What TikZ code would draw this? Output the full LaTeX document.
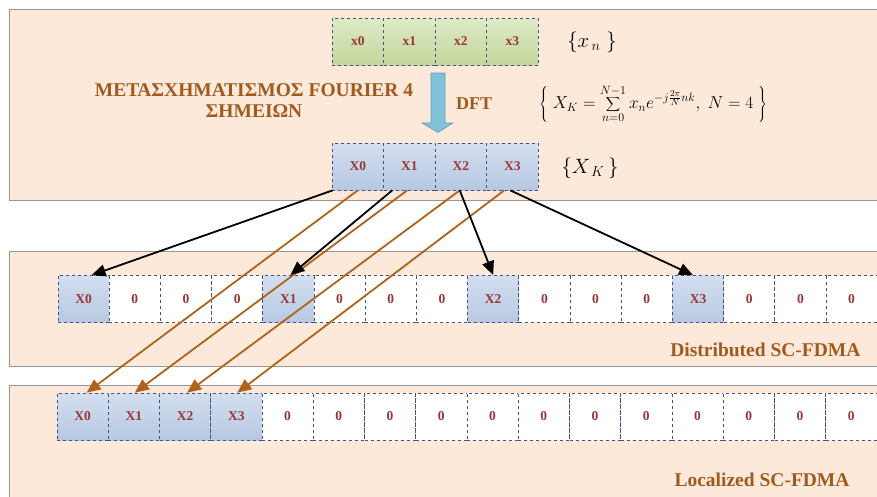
\documentclass[tikz,border=0pt]{standalone}
\usepackage{fontspec}
\setmainfont{Liberation Serif}
\usetikzlibrary{arrows.meta,calc}
\definecolor{panelfill}{RGB}{253,233,218}
\definecolor{panelline}{RGB}{150,150,150}
\definecolor{celltext}{RGB}{150,55,53}
\definecolor{cellline}{RGB}{70,80,130}
\definecolor{brownlab}{RGB}{160,90,30}
\definecolor{brownarr}{RGB}{176,98,26}
\definecolor{dftarrow}{RGB}{126,195,216}
\begin{document}
\begin{tikzpicture}[x=1pt,y=-1pt,
  panel/.style={fill=panelfill,draw=panelline,line width=1pt},
  cellbase/.style={draw=cellline,dashed,line width=0.7pt,minimum width=51.2pt,minimum height=47pt,inner sep=0pt,
     font=\fontsize{13.5}{15}\selectfont\bfseries,text=celltext},
  greencell/.style={cellbase,top color={rgb,255:red,222;green,234;blue,198},bottom color={rgb,255:red,196;green,214;blue,157}},
  bluecell/.style={cellbase,top color={rgb,255:red,212;green,223;blue,240},bottom color={rgb,255:red,182;green,200;blue,225}},
  zerocell/.style={cellbase,fill=white},
  blackarr/.style={draw=black,line width=1.8pt,-{Triangle[length=14pt,width=12pt]}},
  brownarrow/.style={draw=brownarr,line width=1.8pt,-{Triangle[length=14pt,width=12pt]}},
  lab/.style={text=brownlab,font=\fontsize{19.5}{21}\selectfont\bfseries}
]
\useasboundingbox (0,0) rectangle (877,496);
\clip (0,0) rectangle (877,496);
% panels
\draw[panel] (9,9) rectangle (885,200.5);
\draw[panel] (9,251) rectangle (885,366);
\draw[panel] (9,385) rectangle (885,505);

% top input cells
\foreach \i in {0,1,2,3}{
  \node[greencell,minimum width=51.5pt] (x\i) at ({357.75+51.5*\i},41.5) {x\i};
}
\node (xn) at (592,42) {\fontsize{21}{23}\selectfont$\{x_{\,n}\;\}$};

% DFT arrow
\draw[fill=dftarrow,draw=dftarrow!80!black,line width=0.6pt]
  (431,73) -- (445,73) -- (445,123) -- (453,123) -- (438,132.5) -- (422,123) -- (431,123) -- cycle;
\node[lab,align=center] (greek) at (254,101) {ΜΕΤΑΣΧΗΜΑΤΙΣΜΟΣ FOURIER 4\\ΣΗΜΕΙΩΝ};
\node[lab,font=\fontsize{18}{20}\selectfont\bfseries] (dft) at (474,104) {DFT};
\node (formula) at (653,104) {\fontsize{18}{21}\selectfont$\displaystyle\left\{\;X_K=\sum_{n=0}^{N-1}x_n e^{-j\frac{2\pi}{N}nk},\;N=4\;\right\}$};

% DFT output cells
\foreach \i in {0,1,2,3}{
  \node[bluecell,minimum width=51.5pt] (X\i) at ({357.75+51.5*\i},166.5) {X\i};
}
\node (XK) at (590,168) {\fontsize{21}{23}\selectfont$\{X_{\,K}\,\}$};

% distributed cells
\foreach \i in {0,...,15}{
  \pgfmathtruncatemacro{\r}{mod(\i,4)}
  \pgfmathtruncatemacro{\q}{\i/4}
  \ifnum\r=0
    \node[bluecell] (D\i) at ({83.6+51.2*\i},299) {X\q};
  \else
    \node[zerocell] (D\i) at ({83.6+51.2*\i},299) {0};
  \fi
}
\node[lab,anchor=east] (dist) at (864,350) {Distributed SC-FDMA};

% localized cells
\foreach \i in {0,...,15}{
  \ifnum\i<4
    \node[bluecell] (L\i) at ({82.6+51.25*\i},416.5) {X\i};
  \else
    \node[zerocell] (L\i) at ({82.6+51.25*\i},416.5) {0};
  \fi
}
\node[lab,anchor=east] (loc) at (853,480) {Localized SC-FDMA};

% brown arrows (to localized)
\draw[brownarrow] (X0.south) -- ([xshift=4pt]L0.north);
\draw[brownarrow] ([xshift=-2pt]X1.south) -- ([xshift=1pt]L1.north);
\draw[brownarrow] ([xshift=-1pt]X2.south) -- ([xshift=2pt]L2.north);
\draw[brownarrow] ([xshift=-8pt]X3.south) -- ([xshift=1pt]L3.north);

% black arrows (to distributed)
\draw[blackarr] ([xshift=1pt]X0.south west) -- ([xshift=8pt]D0.north);
\draw[blackarr] ([xshift=-17pt]X1.south) -- ([xshift=2pt]D4.north);
\draw[blackarr] ([xshift=-1pt]X2.south) -- (D8.north);
\draw[blackarr] ([xshift=-2pt]X3.south) -- ([xshift=-5pt]D12.north);
\end{tikzpicture}
\end{document}
